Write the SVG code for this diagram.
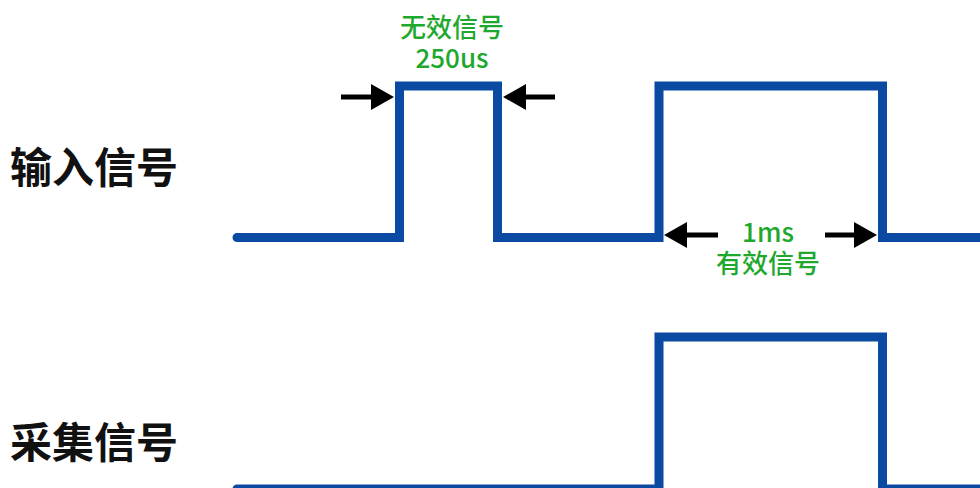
<svg xmlns="http://www.w3.org/2000/svg" width="980" height="488" viewBox="0 0 980 488">
<style>
.sig{fill:none;stroke:#0b4aa2;stroke-width:9;stroke-linejoin:miter;stroke-linecap:round}
.arr{stroke:#000;stroke-width:5;fill:none}
.head{fill:#000}
.lbl{font-family:"Noto Sans CJK SC","Noto Sans",sans-serif;font-weight:bold;font-size:42px;fill:#111}
.g{font-family:"Noto Sans CJK SC","Noto Sans",sans-serif;font-weight:500;font-size:26px;fill:#1fa82e;text-anchor:middle}
</style>
<rect width="980" height="488" fill="#fff"/>
<g id="label-input"><text class="lbl" x="10" y="183">输入信号</text></g>
<g id="label-sample"><text class="lbl" x="10" y="458">采集信号</text></g>
<g id="signal-input"><path class="sig" d="M237,237.5 H399.5 V86 H497.5 V237.5 H659 V86 H882.5 V237.5 H990"/></g>
<g id="signal-sample"><path class="sig" d="M237,489 H659 V337 H882.5 V489 H990"/></g>
<g id="connectors">
<line class="arr" x1="341" y1="97" x2="374" y2="97"/>
<polygon class="head" points="394,97 371,84 371,110"/>
<line class="arr" x1="522" y1="97" x2="555" y2="97"/>
<polygon class="head" points="503,97 526,84 526,110"/>
<line class="arr" x1="684" y1="235" x2="718" y2="235"/>
<polygon class="head" points="664,235 687,222 687,248"/>
<line class="arr" x1="825" y1="235" x2="857" y2="235"/>
<polygon class="head" points="877,235 854,222 854,248"/>
</g>
<g id="note-250"><text class="g" x="452" y="37">无效信号</text><text class="g" x="452" y="68">250us</text></g>
<g id="note-1ms"><text class="g" x="768" y="242">1ms</text><text class="g" x="768" y="273">有效信号</text></g>
</svg>
